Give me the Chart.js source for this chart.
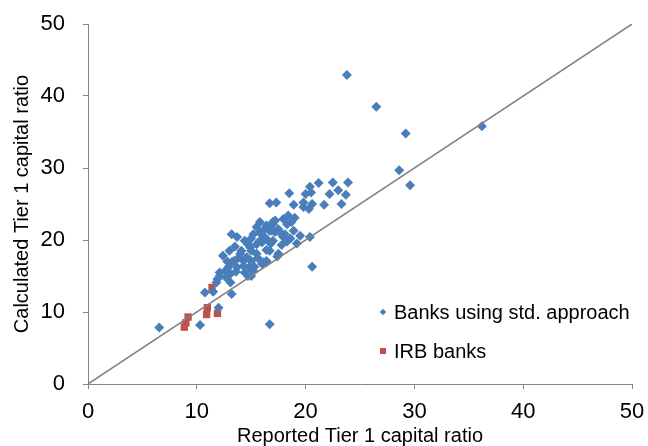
<!DOCTYPE html>
<html>
<head>
<meta charset="utf-8">
<title>Tier 1 capital ratio</title>
<script src="https://cdn.jsdelivr.net/npm/chart.js@4.4.0/dist/chart.umd.min.js"></script>
<style>
  html, body { margin: 0; padding: 0; background: #fff; }
  #wrap { width: 648px; height: 446px; }
</style>
</head>
<body>
<div id="wrap"><canvas id="myChart" width="648" height="446"></canvas></div>
<script>
// banks using the standardised approach (reported, calculated)
var stdX = [23.8, 26.5, 29.2, 36.2, 28.6, 29.6,
  23.9, 22.5, 21.2, 20.4, 23.0, 22.2, 23.7, 20.0, 20.5, 18.5, 23.3, 21.7, 20.6, 19.8, 18.9, 20.3, 19.8, 16.7, 17.3,
  15.8, 17.95, 18.4, 18.7, 17.0, 16.7, 17.5, 18.1, 18.6, 19.5, 20.4, 19.2, 17.5, 16.4, 16.1, 20.6, 17.2, 18.9, 17.95, 17.2, 17.0, 19.0, 18.3,
  16.9, 16.1, 15.2, 13.2, 13.7, 15.8, 15.5, 14.9, 13.5, 12.4, 14.0, 14.6, 13.4, 15.0, 16.4, 14.3, 12.9, 14.7, 12.1, 12.7, 11.9, 13.1,
  10.75, 11.5, 13.2, 12.0, 14.1, 14.4, 15.5, 16.4, 17.6, 17.4, 17.0,
  14.7, 13.2, 12.6, 12.1, 11.8, 13.1, 13.7, 14.4, 15.0, 16.4, 16.7, 17.9, 16.0, 15.5, 14.3, 16.0, 15.2,
  14.8, 15.6, 15.3, 16.8, 16.2, 15.0, 13.8, 15.0, 15.8, 16.5, 17.8, 18.3, 13.0, 12.8, 13.6,
  6.55, 10.3, 16.7];
var stdY = [42.9, 38.5, 34.8, 35.8, 29.7, 27.6,
  28.0, 28.0, 27.9, 27.4, 26.9, 26.4, 26.3, 26.4, 26.6, 26.5, 25.0, 24.9, 25.0, 25.2, 24.9, 24.3, 24.6, 25.1, 25.2,
  22.5, 22.9, 23.4, 22.5, 22.2, 21.3, 21.5, 20.8, 20.2, 20.6, 20.4, 19.5, 18.1, 18.6, 16.9, 16.3, 22.7, 21.3, 20.4, 21.1, 19.9, 23.1, 22.2,
  21.3, 21.3, 20.8, 20.8, 20.4, 19.9, 19.4, 19.0, 19.1, 17.8, 18.1, 17.6, 17.1, 17.1, 17.1, 16.4, 16.2, 15.0, 15.5, 14.8, 14.6, 14.1,
  12.7, 12.8, 12.5, 10.6, 18.5, 19.9, 21.8, 22.0, 21.1, 17.7, 22.5,
  19.4, 16.9, 15.7, 15.0, 14.1, 15.3, 16.2, 15.5, 15.0, 16.9, 18.5, 20.6, 19.7, 18.1, 17.1, 16.7, 15.7,
  16.2, 17.5, 16.3, 19.5, 20.5, 18.5, 17.5, 20.2, 21.0, 20.0, 19.3, 19.8, 18.5, 17.0, 15.6,
  7.84, 8.2, 8.3];

// IRB banks
var irbX = [8.85, 9.0, 9.2, 10.9, 10.97, 11.9, 11.4];
var irbY = [7.9, 8.5, 9.3, 9.65, 10.6, 9.8, 13.4];

// 45 degree reference line
var lineX = [0, 50];
var lineY = [0, 50];

var axisTicks = [0, 10, 20, 30, 40, 50];

var labels = {
  std: "Banks using std. approach",
  irb: "IRB banks",
  x: "Reported Tier 1 capital ratio",
  y: "Calculated Tier 1 capital ratio"
};

var blue = "#4A7EBB";
var red = "#C0504D";
var axisGrey = "#868686";
var fontName = "'Liberation Sans', Arial, sans-serif";

function toPoints(xs, ys) {
  var pts = [];
  for (var i = 0; i < xs.length; i++) {
    pts.push({ x: xs[i], y: ys[i] });
  }
  return pts;
}

// legend drawn inside the plot, bottom right
var insideLegend = {
  id: "insideLegend",
  afterDraw: function(chart) {
    var ctx = chart.ctx;
    var area = chart.chartArea;
    var mx = area.right - 249;
    var y1 = area.bottom - 72;
    var y2 = area.bottom - 33;
    ctx.save();
    // diamond
    ctx.fillStyle = blue;
    ctx.beginPath();
    ctx.moveTo(mx, y1 - 3.2);
    ctx.lineTo(mx + 3.2, y1);
    ctx.lineTo(mx, y1 + 3.2);
    ctx.lineTo(mx - 3.2, y1);
    ctx.closePath();
    ctx.fill();
    // square
    ctx.fillStyle = red;
    ctx.fillRect(mx - 3, y2 - 3, 6, 6);

    ctx.fillStyle = "#000";
    ctx.font = "20px " + fontName;
    ctx.textBaseline = "middle";
    ctx.textAlign = "left";
    ctx.fillText(labels.std, mx + 11, y1 + 1);
    ctx.fillText(labels.irb, mx + 11, y2 + 1);
    ctx.restore();
  }
};

var ctx = document.getElementById("myChart");

var data = {
  datasets: [
    {
      type: "line",
      label: "45 degree line",
      data: toPoints(lineX, lineY),
      borderColor: "#808080",
      borderWidth: 1.5,
      pointRadius: 0,
      fill: false
    },
    {
      label: labels.std,
      data: toPoints(stdX, stdY),
      backgroundColor: blue,
      borderColor: blue,
      borderWidth: 0,
      pointStyle: "rectRot",
      pointRadius: 5
    },
    {
      label: labels.irb,
      data: toPoints(irbX, irbY),
      backgroundColor: red,
      borderColor: red,
      borderWidth: 0,
      pointStyle: "rect",
      pointRadius: 5.2
    }
  ]
};

var myChart = new Chart(ctx, {
  type: "scatter",
  data: data,
  plugins: [insideLegend],
  options: {
    responsive: false,
    animation: false,
    devicePixelRatio: 1,
    layout: { padding: { top: 24, right: 16, left: 0, bottom: 0 } },
    plugins: {
      legend: { display: false },
      tooltip: { enabled: false }
    },
    scales: {
      x: {
        type: "linear",
        min: 0,
        max: 50,
        afterFit: function(scale) {
          scale.height = 62;
          scale.paddingLeft = 0;
          scale.paddingRight = 0;
        },
        afterBuildTicks: function(scale) {
          scale.ticks = axisTicks.map(function(v) { return { value: v }; });
        },
        ticks: {
          color: "#000",
          padding: 10,
          maxRotation: 0,
          font: { family: fontName, size: 22 }
        },
        grid: { drawOnChartArea: false, drawTicks: true, tickLength: 5, color: axisGrey },
        border: { color: axisGrey },
        title: {
          display: true,
          text: labels.x,
          color: "#000",
          font: { family: fontName, size: 20, lineHeight: 1 },
          padding: { top: 0, bottom: 0 }
        }
      },
      y: {
        type: "linear",
        min: 0,
        max: 50,
        afterFit: function(scale) {
          scale.width = 88;
          scale.paddingTop = 0;
          scale.paddingBottom = 0;
        },
        afterBuildTicks: function(scale) {
          scale.ticks = axisTicks.map(function(v) { return { value: v }; });
        },
        ticks: {
          color: "#000",
          padding: 18,
          font: { family: fontName, size: 22 }
        },
        grid: { drawOnChartArea: false, drawTicks: true, tickLength: 5, color: axisGrey },
        border: { color: axisGrey },
        title: {
          display: true,
          text: labels.y,
          color: "#000",
          font: { family: fontName, size: 20, lineHeight: 1 },
          padding: { top: 12, bottom: 0 }
        }
      }
    }
  }
});
</script>
</body>
</html>
